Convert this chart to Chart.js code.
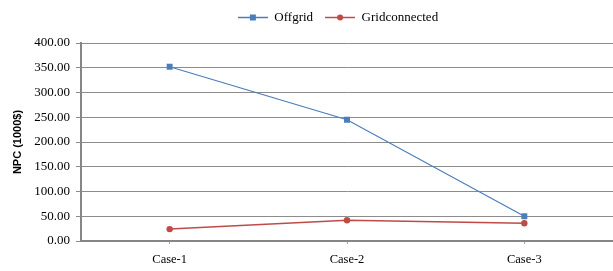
<!DOCTYPE html>
<html>
<head>
<meta charset="utf-8">
<script src="https://cdn.jsdelivr.net/npm/chart.js@4"></script>
<style>
  html, body { margin: 0; padding: 0; background: #fff; }
  #wrap { width: 613px; height: 271px; }
</style>
</head>
<body>
<div id="wrap"><canvas id="npcChart"></canvas></div>
<script>
    // data
    const cases = ['Case-1', 'Case-2', 'Case-3'];
    const offgrid = [352, 245, 50];
    const gridconnected = [24, 42, 36];
    const yTicks = [0, 50, 100, 150, 200, 250, 300, 350, 400];

    const blue = '#4a7ebb';
    const red = '#be4b48';

    // small line+marker swatch for the legend
    function swatch(color, square) {
        const c = document.createElement('canvas');
        c.width = 30; c.height = 9;
        const g = c.getContext('2d');
        g.strokeStyle = color; g.lineWidth = 1.5;
        g.beginPath(); g.moveTo(0, 4.5); g.lineTo(30, 4.5); g.stroke();
        g.fillStyle = color;
        if (square) {
            g.fillRect(12, 1.5, 6, 6);
        } else {
            g.beginPath(); g.arc(15, 4.5, 3, 0, Math.PI * 2); g.fill();
        }
        return c;
    }

    // nudge the legend to where it sits in the picture
    const legendShift = {
        id: 'legendShift',
        afterLayout: function (chart) {
            const lg = chart.legend;
            lg.left += 26; lg.right += 26;
            lg.top -= 9; lg.bottom -= 9;
        }
    };

    const ctx = document.getElementById('npcChart').getContext('2d');
    const npcChart = new Chart(ctx, {
        type: 'line',
        plugins: [legendShift],
        data: {
            labels: cases,
            datasets: [{
                label: 'Offgrid',
                data: offgrid,
                borderColor: blue,
                backgroundColor: blue,
                borderWidth: 1.2,
                pointStyle: 'rect',
                pointRadius: 4.2,
                pointBorderWidth: 0,
                fill: false,
                tension: 0
            }, {
                label: 'Gridconnected',
                data: gridconnected,
                borderColor: red,
                backgroundColor: red,
                borderWidth: 1.5,
                pointStyle: 'circle',
                pointRadius: 3.2,
                pointBorderWidth: 0,
                fill: false,
                tension: 0
            }]
        },
        options: {
            responsive: true,
            maintainAspectRatio: false,
            animation: false,
            layout: { autoPadding: false, padding: { left: 11, right: 0, top: 8, bottom: 1 } },
            plugins: {
                tooltip: { enabled: false },
                legend: {
                    position: 'top',
                    labels: {
                        font: { family: 'Liberation Serif', size: 13 },
                        color: '#000',
                        usePointStyle: true,
                        pointStyleWidth: 30,
                        padding: 12,
                        generateLabels: function (chart) {
                            return chart.data.datasets.map(function (ds, i) {
                                return {
                                    text: ds.label,
                                    datasetIndex: i,
                                    pointStyle: swatch(ds.borderColor, i === 0),
                                    fontColor: '#000',
                                    lineWidth: 0,
                                    strokeStyle: 'transparent',
                                    fillStyle: 'transparent'
                                };
                            });
                        }
                    }
                }
            },
            scales: {
                x: {
                    offset: true,
                    grid: {
                        offset: false,
                        drawOnChartArea: false,
                        drawTicks: true,
                        tickLength: 3,
                        color: '#a6a6a6'
                    },
                    border: { color: '#868686', width: 2 },
                    ticks: {
                        font: { family: 'Liberation Serif', size: 12.5 },
                        color: '#000',
                        padding: 8
                    },
                    afterFit: function (scale) {
                        scale.height = 29;
                        scale.paddingLeft = 0;
                        scale.paddingRight = 0;
                    }
                },
                y: {
                    min: 0,
                    max: 400,
                    afterBuildTicks: function (scale) {
                        scale.ticks = yTicks.map(function (v) { return { value: v }; });
                    },
                    grid: {
                        color: '#8c8c8c',
                        lineWidth: 1,
                        drawTicks: true,
                        tickLength: 5
                    },
                    border: { color: '#868686', width: 2 },
                    ticks: {
                        font: { family: 'Liberation Serif', size: 13 },
                        color: '#000',
                        padding: 6,
                        callback: function (v) { return Number(v).toFixed(2); }
                    },
                    title: {
                        display: true,
                        text: 'NPC (1000$)',
                        font: { family: 'Liberation Sans', size: 11, weight: 'bold' },
                        color: '#000',
                        padding: { top: 0, bottom: 8 }
                    },
                    afterFit: function (scale) { scale.width = 70; }
                }
            }
        }
    });
</script>
</body>
</html>
